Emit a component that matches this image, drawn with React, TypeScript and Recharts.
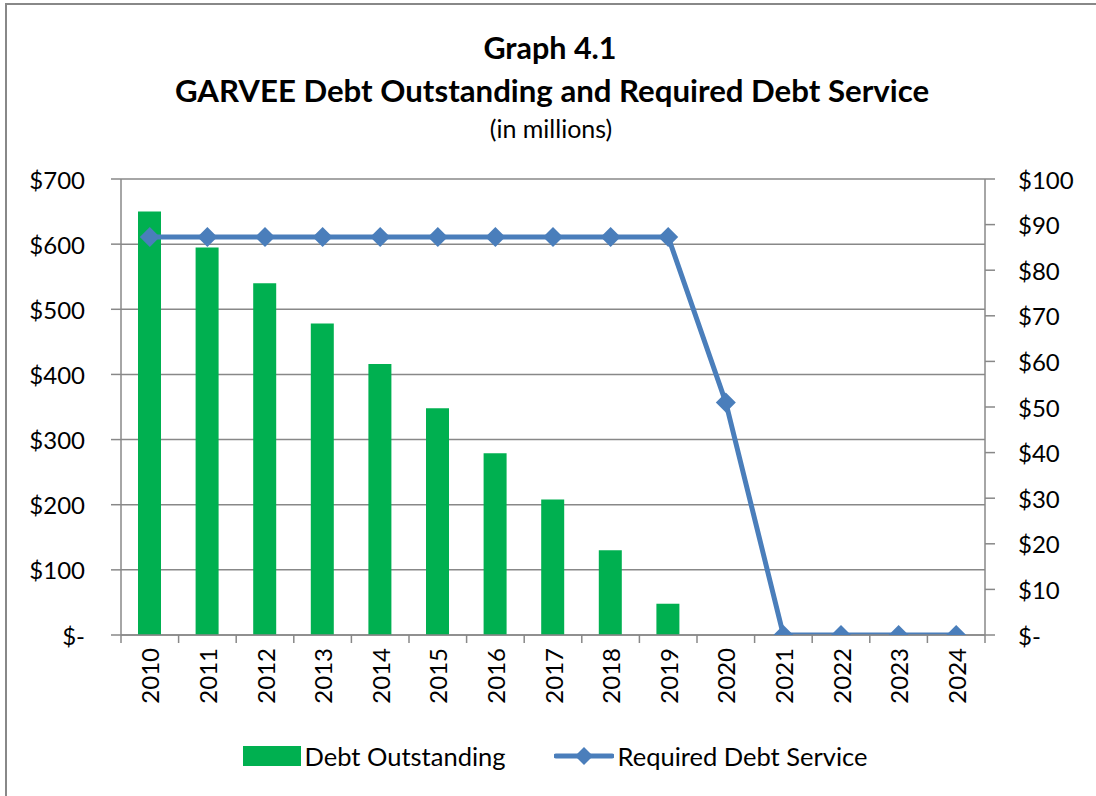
import React from 'react';
import { ComposedChart, Bar, Line, XAxis, YAxis, CartesianGrid, Legend } from 'recharts';

const years = ['2010','2011','2012','2013','2014','2015','2016','2017','2018','2019','2020','2021','2022','2023','2024'];
const debtOutstanding: (number | null)[] = [650, 595, 540, 478, 416, 348, 279, 208, 130, 48, null, null, null, null, null];
const debtService: number[] = [87.3, 87.3, 87.3, 87.3, 87.3, 87.3, 87.3, 87.3, 87.3, 87.3, 51, 0, 0, 0, 0];
const leftTicks = [0, 100, 200, 300, 400, 500, 600, 700];
const rightTicks = [0, 10, 20, 30, 40, 50, 60, 70, 80, 90, 100];

const data = years.map((y, i) => ({ year: y, debt: debtOutstanding[i], service: debtService[i] }));

const FONT = 'Lato, "Open Sans", sans-serif';
const GRAY = '#888888';
const GREEN = '#00B050';
const BLUE = '#4A7EBB';

const money = (v: number) => (v === 0 ? '$-' : `$${v}`);

const LeftTick = (props: any) => {
  const { x, y, payload } = props;
  return (
    <text x={x} y={y} textAnchor="end" dominantBaseline="central" fontFamily={FONT} fontSize={24} fill="#000">
      {money(payload.value)}
    </text>
  );
};

const RightTick = (props: any) => {
  const { x, y, payload } = props;
  return (
    <text x={x} y={y} textAnchor="start" dominantBaseline="central" fontFamily={FONT} fontSize={24} fill="#000">
      {money(payload.value)}
    </text>
  );
};

const XTick = (props: any) => {
  const { x, y, payload } = props;
  const half = payload.offset || 0;
  const axisY = y - 13;
  return (
    <g>
      <line x1={x - half} x2={x - half} y1={axisY} y2={axisY + 8} stroke={GRAY} strokeWidth={1.5} />
      {payload.index === years.length - 1 && (
        <line x1={x + half} x2={x + half} y1={axisY} y2={axisY + 8} stroke={GRAY} strokeWidth={1.5} />
      )}
      <text
        x={x}
        y={y}
        transform={`rotate(-90, ${x}, ${y})`}
        textAnchor="end"
        dominantBaseline="central"
        fontFamily={FONT}
        fontSize={24}
        fill="#000"
      >
        {payload.value}
      </text>
    </g>
  );
};

const Diamond = (props: any) => {
  const { cx, cy } = props;
  if (cx == null || cy == null) return null;
  const r = 10;
  return <path d={`M${cx},${cy - r} L${cx + r},${cy} L${cx},${cy + r} L${cx - r},${cy} Z`} fill={BLUE} stroke="none" />;
};

const LegendContent = () => (
  <div style={{ display: 'flex', alignItems: 'center', justifyContent: 'center', fontFamily: FONT, fontSize: 25.5, color: '#000', paddingLeft: 14 }}>
    <div style={{ display: 'flex', alignItems: 'center' }}>
      <svg width={58} height={22} style={{ display: 'block' }}>
        <rect x={0} y={1} width={58} height={20} fill={GREEN} />
      </svg>
      <span style={{ marginLeft: 4 }}>Debt Outstanding</span>
    </div>
    <div style={{ display: 'flex', alignItems: 'center', marginLeft: 48 }}>
      <svg width={60} height={22} style={{ display: 'block' }}>
        <line x1={2} x2={58} y1={11} y2={11} stroke={BLUE} strokeWidth={5} strokeLinecap="round" />
        <path d="M30,2 L39,11 L30,20 L21,11 Z" fill={BLUE} />
      </svg>
      <span style={{ marginLeft: 4 }}>Required Debt Service</span>
    </div>
  </div>
);

export default function App() {
  return (
    <div style={{ position: 'absolute', left: 0, top: 0, width: 1096, height: 796, overflow: 'hidden', background: '#fff' }}>
      <div style={{ position: 'absolute', left: 5, top: 3, width: 1100, height: 800, border: `2px solid ${GRAY}`, boxSizing: 'border-box' }} />
      <div style={{ position: 'absolute', left: 0, top: 27, width: 1100, textAlign: 'center', fontFamily: FONT, fontWeight: 700, fontSize: 30.5, lineHeight: '40px', color: '#000' }}>
        Graph 4.1
      </div>
      <div style={{ position: 'absolute', left: 0, top: 70, width: 1104, textAlign: 'center', fontFamily: FONT, fontWeight: 700, fontSize: 31.2, lineHeight: '40px', color: '#000' }}>
        GARVEE Debt Outstanding and Required Debt Service
      </div>
      <div style={{ position: 'absolute', left: 0, top: 112, width: 1102, textAlign: 'center', fontFamily: FONT, fontSize: 25, lineHeight: '32px', color: '#000' }}>
        (in millions)
      </div>
      <div style={{ position: 'absolute', left: 0, top: 0 }}>
        <ComposedChart width={1096} height={796} data={data} margin={{ top: 179, right: 0, bottom: 0, left: 0 }}>
          <CartesianGrid yAxisId="left" vertical={false} stroke={GRAY} strokeWidth={1.5} />
          <XAxis
            dataKey="year"
            height={161}
            tickLine={false}
            tickSize={8}
            tickMargin={5}
            axisLine={{ stroke: GRAY, strokeWidth: 1.5 }}
            tick={<XTick />}
            interval={0}
          />
          <YAxis
            yAxisId="left"
            width={121}
            domain={[0, 700]}
            ticks={leftTicks}
            tickSize={10}
            tickMargin={26}
            tickLine={{ stroke: GRAY, strokeWidth: 1.5 }}
            axisLine={{ stroke: GRAY, strokeWidth: 1.5 }}
            tick={<LeftTick />}
            allowDataOverflow
          />
          <YAxis
            yAxisId="right"
            orientation="right"
            width={111}
            domain={[0, 100]}
            ticks={rightTicks}
            tickSize={10}
            tickMargin={23}
            tickLine={{ stroke: GRAY, strokeWidth: 1.5 }}
            axisLine={{ stroke: GRAY, strokeWidth: 1.5 }}
            tick={<RightTick />}
            allowDataOverflow
          />
          <Bar yAxisId="left" dataKey="debt" name="Debt Outstanding" fill={GREEN} barSize={23} isAnimationActive={false} />
          <Line
            yAxisId="right"
            dataKey="service"
            name="Required Debt Service"
            stroke={BLUE}
            strokeWidth={5}
            dot={<Diamond />}
            activeDot={false}
            isAnimationActive={false}
          />
          <Legend
            verticalAlign="middle"
            align="center"
            content={<LegendContent />}
            wrapperStyle={{ position: 'absolute', top: 741, left: 0, width: 1096, height: 28 }}
          />
        </ComposedChart>
      </div>
    </div>
  );
}
